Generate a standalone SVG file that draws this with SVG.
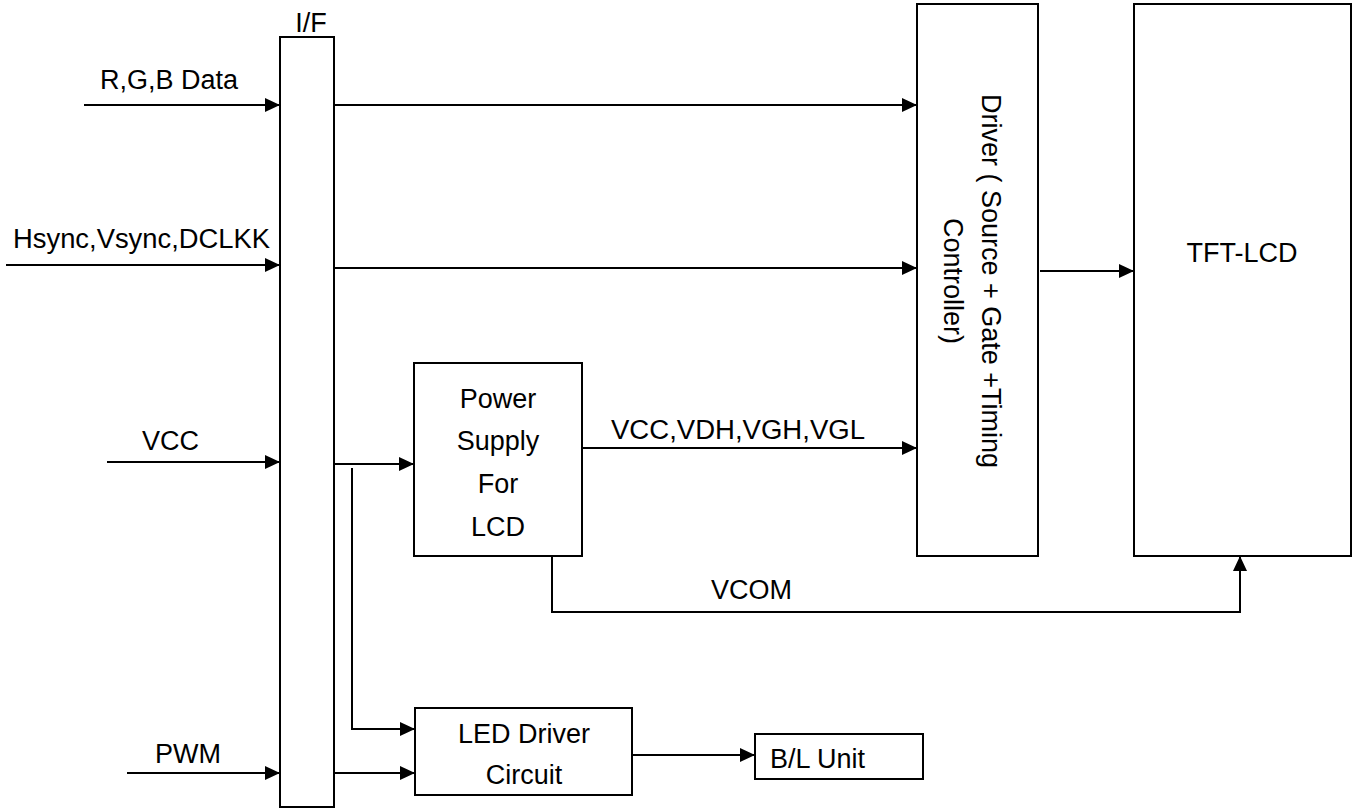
<svg xmlns="http://www.w3.org/2000/svg" width="1359" height="809" viewBox="0 0 1359 809">
<style>
.box{fill:#fff;stroke:#000;stroke-width:2}
.ln{fill:none;stroke:#000;stroke-width:2}
text{font-family:"Liberation Sans",Arial,sans-serif;font-size:27px;fill:#000}
.c{text-anchor:middle}
</style>
<defs>
<marker id="ah" markerUnits="userSpaceOnUse" markerWidth="16" markerHeight="14" refX="15" refY="7" orient="auto">
<path d="M0,0 L15,7 L0,14 z" fill="#000"/>
</marker>
</defs>
<rect width="1359" height="809" fill="#fff"/>
<g id="connectors">
<path class="ln" d="M84,105 H280" marker-end="url(#ah)"/>
<path class="ln" d="M6,265 H280" marker-end="url(#ah)"/>
<path class="ln" d="M107,462 H280" marker-end="url(#ah)"/>
<path class="ln" d="M127,773 H280" marker-end="url(#ah)"/>
<path class="ln" d="M334,105 H917" marker-end="url(#ah)"/>
<path class="ln" d="M334,268 H917" marker-end="url(#ah)"/>
<path class="ln" d="M334,464 H414" marker-end="url(#ah)"/>
<path class="ln" d="M352,468 V729 H415" marker-end="url(#ah)"/>
<path class="ln" d="M334,773 H415" marker-end="url(#ah)"/>
<path class="ln" d="M582,448 H917" marker-end="url(#ah)"/>
<path class="ln" d="M552,556 V612 H1240 V556" marker-end="url(#ah)"/>
<path class="ln" d="M1040,271 H1134" marker-end="url(#ah)"/>
<path class="ln" d="M633,755 H755" marker-end="url(#ah)"/>
<text x="100" y="89">R,G,B Data</text>
<text x="13" y="248" textLength="257" lengthAdjust="spacingAndGlyphs">Hsync,Vsync,DCLKK</text>
<text x="142" y="450">VCC</text>
<text x="155" y="763">PWM</text>
<text x="611" y="439" textLength="254" lengthAdjust="spacingAndGlyphs">VCC,VDH,VGH,VGL</text>
<text x="711" y="599">VCOM</text>
</g>
<g id="if">
<rect class="box" x="280" y="37" width="54" height="770"/>
<text class="c" x="311" y="32">I/F</text>
</g>
<g id="power">
<rect class="box" x="414" y="363" width="168" height="193"/>
<text class="c" x="498" y="408">Power</text>
<text class="c" x="498" y="450">Supply</text>
<text class="c" x="498" y="493">For</text>
<text class="c" x="498" y="536">LCD</text>
</g>
<g id="driver">
<rect class="box" x="917" y="4" width="121" height="552"/>
<text class="c" transform="translate(982,281) rotate(90)">Driver ( Source + Gate +Timing</text>
<text class="c" transform="translate(944,281) rotate(90)">Controller)</text>
</g>
<g id="tft">
<rect class="box" x="1134" y="4" width="217" height="552"/>
<text class="c" x="1242" y="262">TFT-LCD</text>
</g>
<g id="led">
<rect class="box" x="415" y="708" width="217" height="87"/>
<text class="c" x="524" y="743">LED Driver</text>
<text class="c" x="524" y="784">Circuit</text>
</g>
<g id="bl">
<rect class="box" x="755" y="734" width="168" height="45"/>
<text x="770" y="768">B/L Unit</text>
</g>
</svg>
